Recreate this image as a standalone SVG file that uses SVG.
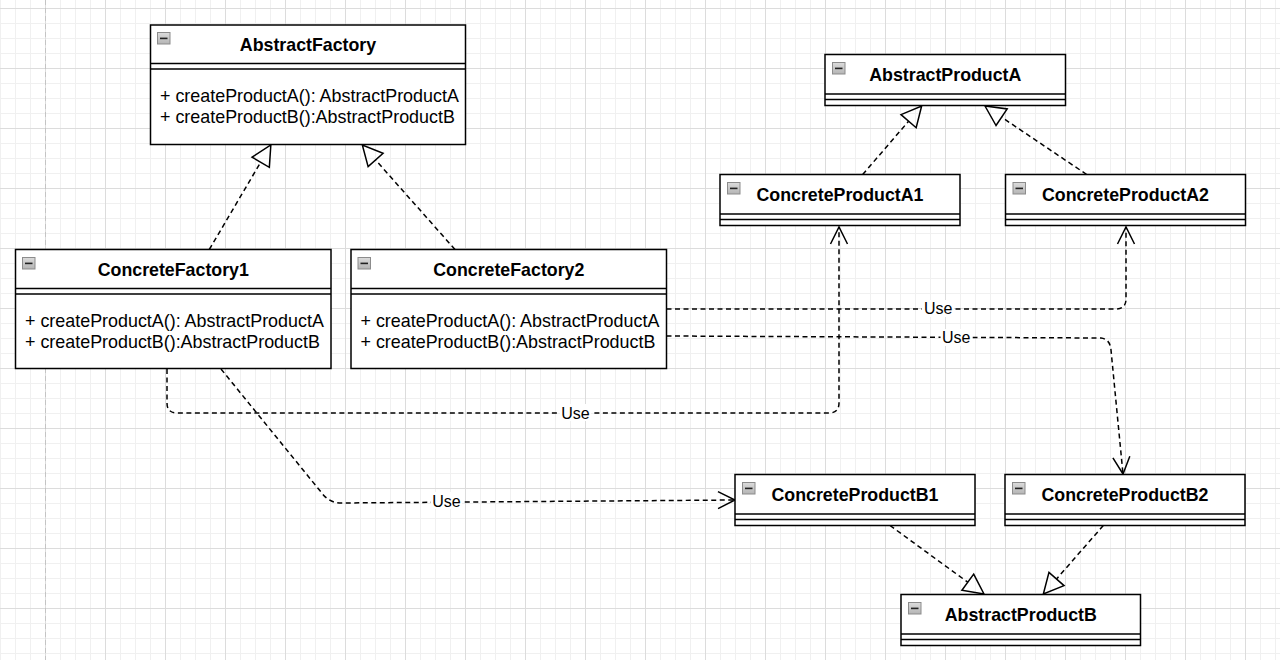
<svg xmlns="http://www.w3.org/2000/svg" xmlns:xlink="http://www.w3.org/1999/xlink" width="1280" height="660" viewBox="0 0 1280 660">
<style>
.box{fill:#ffffff;stroke:#000000;stroke-width:1.5}
.sep{stroke:#000000;stroke-width:1.5;fill:none}
.title{font-family:"Liberation Sans",Arial,sans-serif;font-weight:bold;font-size:17.8px;fill:#000000;text-anchor:middle}
.meth{font-family:"Liberation Sans",Arial,sans-serif;font-size:17.9px;fill:#000000}
.edge{fill:none;stroke:#000000;stroke-width:1.5;stroke-dasharray:5 3.5}
.lbl{font-family:"Liberation Sans",Arial,sans-serif;font-size:16px;fill:#000000;text-anchor:middle}
.lblbg{fill:#ffffff}
</style>
<defs>
<pattern id="grid" patternUnits="userSpaceOnUse" x="45" y="8" width="60" height="60">
<rect x="0" y="0" width="60" height="60" fill="#ffffff"/>
<rect x="15" y="0" width="1" height="60" fill="#f0f0f0"/>
<rect x="30" y="0" width="1" height="60" fill="#f0f0f0"/>
<rect x="45" y="0" width="1" height="60" fill="#f0f0f0"/>
<rect x="0" y="15" width="60" height="1" fill="#f0f0f0"/>
<rect x="0" y="30" width="60" height="1" fill="#f0f0f0"/>
<rect x="0" y="45" width="60" height="1" fill="#f0f0f0"/>
<rect x="0" y="0" width="1" height="60" fill="#dcdcdc"/>
<rect x="0" y="0" width="60" height="1" fill="#dcdcdc"/>
</pattern>
<linearGradient id="icg" x1="0" y1="0" x2="0" y2="1">
<stop offset="0" stop-color="#dcdcdc"/>
<stop offset="1" stop-color="#b4b4b4"/>
</linearGradient>
<g id="icon">
<rect x="0.5" y="0.5" width="12.5" height="11.5" fill="url(#icg)" stroke="#8c8c8c" stroke-width="1"/>
<rect x="3" y="5.6" width="7.5" height="1.6" fill="#222222"/>
</g>
<marker id="tri" markerUnits="userSpaceOnUse" markerWidth="24" markerHeight="24" refX="0" refY="12" viewBox="0 0 24 24" orient="auto" overflow="visible">
<path d="M0,2 L20,12 L0,22 Z" fill="none" stroke="#000000" stroke-width="1.5" stroke-linejoin="miter"/>
</marker>
<marker id="open" markerUnits="userSpaceOnUse" markerWidth="24" markerHeight="24" refX="20" refY="12" viewBox="0 0 24 24" orient="auto" overflow="visible">
<path d="M3,3.5 L20,12 L3,20.5" fill="none" stroke="#000000" stroke-width="1.5"/>
</marker>
</defs>

<rect x="0" y="0" width="1280" height="660" fill="url(#grid)"/>
<line x1="45.5" y1="0" x2="45.5" y2="660" stroke="#c4c4c4" stroke-width="1" stroke-dasharray="5 3"/>

<g id="connectors">
<path class="edge" d="M209.3,249.5 L260.7,162.2" marker-end="url(#tri)"/>
<path class="edge" d="M455,249.5 L375.6,160" marker-end="url(#tri)"/>
<path class="edge" d="M862.7,174.5 L908.6,121.2" marker-end="url(#tri)"/>
<path class="edge" d="M1086.7,174.5 L1001.6,117.2" marker-end="url(#tri)"/>
<path class="edge" d="M890,525.5 L967.8,582.2" marker-end="url(#tri)"/>
<path class="edge" d="M1103.3,525.5 L1056.5,579" marker-end="url(#tri)"/>

<path class="edge" d="M167,369 L167,403 Q167,413 177,413 L829,413 Q839,413 839,403 L839,227" marker-end="url(#open)"/>
<path class="edge" d="M221,369 L321,492 Q329,503 341,503 L735,500" marker-end="url(#open)"/>
<path class="edge" d="M666.5,309 L1116,309 Q1126,309 1126,299 L1126,227" marker-end="url(#open)"/>
<path class="edge" d="M666.5,336 L1101,338 Q1110,339 1111,350 L1123,474" marker-end="url(#open)"/>

<rect class="lblbg" x="560" y="404" width="31" height="17"/>
<text class="lbl" x="575.5" y="418.5">Use</text>
<rect class="lblbg" x="431" y="492" width="31" height="17"/>
<text class="lbl" x="446.5" y="506.5">Use</text>
<rect class="lblbg" x="922" y="300" width="32" height="17"/>
<text class="lbl" x="938.3" y="314">Use</text>
<rect class="lblbg" x="940.5" y="329" width="32" height="17"/>
<text class="lbl" x="956.3" y="342.7">Use</text>
</g>

<g id="AbstractFactory">
<rect class="box" x="150.5" y="25" width="315" height="119.5"/>
<path class="sep" d="M150.5,63.5 H465.5 M150.5,69 H465.5"/>
<use xlink:href="#icon" x="157" y="32"/>
<text class="title" x="308" y="51">AbstractFactory</text>
<text class="meth" x="160" y="102.3">+ createProductA(): AbstractProductA</text>
<text class="meth" x="160" y="123.2">+ createProductB():AbstractProductB</text>
</g>

<g id="ConcreteFactory1">
<rect class="box" x="15.5" y="249.5" width="315.5" height="119"/>
<path class="sep" d="M15.5,288.5 H331 M15.5,294 H331"/>
<use xlink:href="#icon" x="22" y="257"/>
<text class="title" x="173.3" y="276">ConcreteFactory1</text>
<text class="meth" x="25" y="326.7">+ createProductA(): AbstractProductA</text>
<text class="meth" x="25" y="347.6">+ createProductB():AbstractProductB</text>
</g>

<g id="ConcreteFactory2">
<rect class="box" x="351" y="249.5" width="315.5" height="119"/>
<path class="sep" d="M351,288.5 H666.5 M351,294 H666.5"/>
<use xlink:href="#icon" x="357.5" y="257"/>
<text class="title" x="508.8" y="276">ConcreteFactory2</text>
<text class="meth" x="360.5" y="326.7">+ createProductA(): AbstractProductA</text>
<text class="meth" x="360.5" y="347.6">+ createProductB():AbstractProductB</text>
</g>

<g id="AbstractProductA">
<rect class="box" x="825" y="54.5" width="240.5" height="51"/>
<path class="sep" d="M825,94 H1065.5 M825,99.5 H1065.5"/>
<use xlink:href="#icon" x="832" y="62"/>
<text class="title" x="945.3" y="81">AbstractProductA</text>
</g>

<g id="ConcreteProductA1">
<rect class="box" x="720" y="174.5" width="240" height="51"/>
<path class="sep" d="M720,214 H960 M720,219.5 H960"/>
<use xlink:href="#icon" x="727" y="182"/>
<text class="title" x="840" y="201">ConcreteProductA1</text>
</g>

<g id="ConcreteProductA2">
<rect class="box" x="1005.5" y="174.5" width="240" height="51"/>
<path class="sep" d="M1005.5,214 H1245.5 M1005.5,219.5 H1245.5"/>
<use xlink:href="#icon" x="1012.5" y="182"/>
<text class="title" x="1125.5" y="201">ConcreteProductA2</text>
</g>

<g id="ConcreteProductB1">
<rect class="box" x="735" y="474.5" width="240" height="51"/>
<path class="sep" d="M735,514 H975 M735,519.5 H975"/>
<use xlink:href="#icon" x="742" y="482"/>
<text class="title" x="855" y="501">ConcreteProductB1</text>
</g>

<g id="ConcreteProductB2">
<rect class="box" x="1005" y="474.5" width="240" height="51"/>
<path class="sep" d="M1005,514 H1245 M1005,519.5 H1245"/>
<use xlink:href="#icon" x="1012" y="482"/>
<text class="title" x="1125" y="501">ConcreteProductB2</text>
</g>

<g id="AbstractProductB">
<rect class="box" x="901" y="594.5" width="239.5" height="51"/>
<path class="sep" d="M901,634 H1140.5 M901,639.5 H1140.5"/>
<use xlink:href="#icon" x="908" y="602"/>
<text class="title" x="1020.8" y="621">AbstractProductB</text>
</g>
</svg>
